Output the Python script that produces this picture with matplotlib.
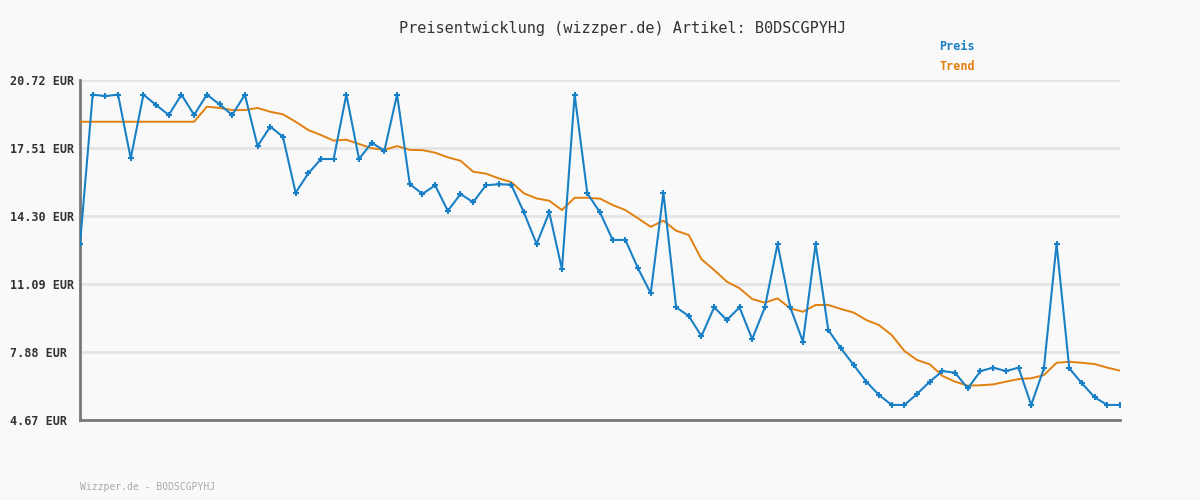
# Preisverlauf wizzper.de nachbauen

import numpy as np
import matplotlib
matplotlib.use("Agg")
import matplotlib.pyplot as plt

artikel = "B0DSCGPYHJ"

preis = [12.98, 20.03, 19.96, 20.03, 17.02, 20.03, 19.54, 19.07, 20.03, 19.07,
         20.03, 19.57, 19.07, 20.03, 17.60, 18.52, 18.04, 15.40, 16.31, 16.99,
         16.99, 20.03, 16.99, 17.76, 17.38, 20.03, 15.81, 15.34, 15.75, 14.54,
         15.34, 14.95, 15.75, 15.80, 15.78, 14.47, 12.98, 14.47, 11.78, 20.03,
         15.37, 14.47, 13.17, 13.17, 11.83, 10.65, 15.40, 9.99, 9.58, 8.63,
         9.99, 9.39, 9.99, 8.49, 9.99, 12.98, 9.99, 8.37, 12.98, 8.92,
         8.05, 7.27, 6.48, 5.85, 5.38, 5.38, 5.90, 6.48, 6.98, 6.90,
         6.16, 6.98, 7.14, 6.98, 7.14, 5.38, 7.11, 12.98, 7.11, 6.40,
         5.74, 5.38, 5.38]

trend = [18.75, 18.75, 18.75, 18.75, 18.75, 18.75, 18.75, 18.75, 18.75, 18.75,
         19.46, 19.40, 19.30, 19.30, 19.40, 19.22, 19.10, 18.75, 18.36, 18.12,
         17.86, 17.90, 17.70, 17.50, 17.42, 17.60, 17.42, 17.41, 17.29, 17.07,
         16.91, 16.39, 16.30, 16.08, 15.90, 15.37, 15.13, 15.02, 14.58, 15.16,
         15.16, 15.12, 14.82, 14.58, 14.19, 13.79, 14.08, 13.61, 13.40, 12.26,
         11.75, 11.20, 10.89, 10.38, 10.21, 10.41, 9.94, 9.78, 10.10, 10.10,
         9.91, 9.74, 9.39, 9.15, 8.68, 7.93, 7.50, 7.30, 6.75, 6.48,
         6.29, 6.31, 6.35, 6.48, 6.60, 6.64, 6.79, 7.37, 7.42, 7.37,
         7.31, 7.14, 7.00]

y_ticks = [4.67, 7.88, 11.09, 14.30, 17.51, 20.72]

blau = "#1a80c6"
orange = "#e2800f"
bg = "#f9f9f9"

plt.rcParams["font.family"] = "DejaVu Sans Mono"

fig = plt.figure(figsize=(12, 5), dpi=100, facecolor=bg)
ax = fig.add_axes([80 / 1200, 80 / 500, 1040 / 1200, 340 / 500])
ax.set_facecolor(bg)

x = np.arange(len(preis))
ax.plot(x, trend, color=orange, lw=1.4, zorder=3)
ax.plot(x, preis, color=blau, lw=1.5, marker="+", markersize=4, markeredgewidth=1.5, zorder=4)

ax.set_xlim(0, len(preis) - 1)
ax.set_ylim(y_ticks[0], y_ticks[-1])
ax.set_xticks([])
ax.set_yticks(y_ticks, labels=["%.2f EUR" % v for v in y_ticks])
for lab in ax.get_yticklabels():
    lab.set_horizontalalignment("left")
    lab.set_fontweight("bold")
ax.tick_params(axis="y", length=0, pad=50.4, labelsize=8.5, labelcolor="#333333")

ax.grid(axis="y", color="#e4e4e4", lw=2, zorder=0)
ax.spines[["top", "right"]].set_visible(False)
ax.spines[["left", "bottom"]].set_color("#777777")
ax.spines[["left", "bottom"]].set_linewidth(2)

fig.text(623 / 1200, 1 - 28 / 500, "Preisentwicklung (wizzper.de) Artikel: " + artikel,
         ha="center", va="center", fontsize=11, color="#333333")
fig.text(939 / 1200, 1 - 47 / 500, "Preis", ha="left", va="center",
         fontsize=8.5, fontweight="bold", color=blau)
fig.text(939 / 1200, 1 - 67 / 500, "Trend", ha="left", va="center",
         fontsize=8.5, fontweight="bold", color=orange)
fig.text(80 / 1200, 1 - 487 / 500, "Wizzper.de - " + artikel, ha="left", va="center",
         fontsize=7, color="#aaaaaa")

fig.savefig("out.png", dpi=100, facecolor=bg)
